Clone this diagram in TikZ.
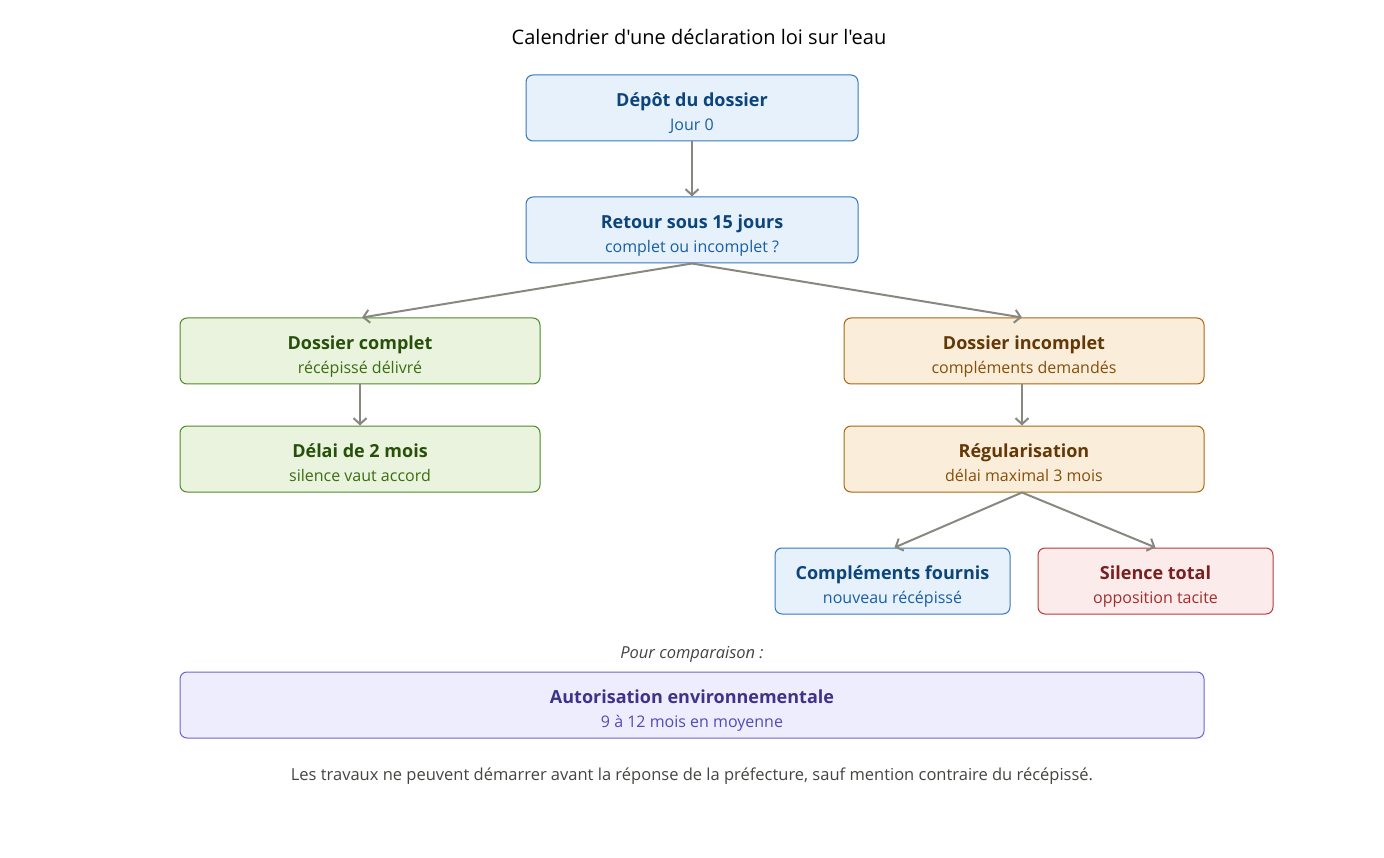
\documentclass[tikz,border=0pt]{standalone}
\usepackage{fontspec}
\setmainfont{Open Sans}[Ligatures=TeXOff]
\usetikzlibrary{arrows.meta}

\definecolor{bluefill}{HTML}{E6F1FB}
\definecolor{blueline}{HTML}{3477C2}
\definecolor{bluetitle}{HTML}{0C447C}
\definecolor{bluenote}{HTML}{185FA5}
\definecolor{greenfill}{HTML}{EAF3DE}
\definecolor{greenline}{HTML}{4E8A26}
\definecolor{greentitle}{HTML}{27500A}
\definecolor{greennote}{HTML}{3B6D11}
\definecolor{orangefill}{HTML}{FAEEDA}
\definecolor{orangeline}{HTML}{A8660F}
\definecolor{orangetitle}{HTML}{633806}
\definecolor{orangenote}{HTML}{854F0B}
\definecolor{redfill}{HTML}{FCEBEB}
\definecolor{redline}{HTML}{B83A3A}
\definecolor{redtitle}{HTML}{791F1F}
\definecolor{rednote}{HTML}{A32D2D}
\definecolor{purplefill}{HTML}{EEEDFE}
\definecolor{purpleline}{HTML}{6E63D0}
\definecolor{purpletitle}{HTML}{3C3489}
\definecolor{purplenote}{HTML}{534AB7}
\definecolor{arrowgrey}{HTML}{888780}
\definecolor{textgrey}{HTML}{444441}

\newcommand{\cardtext}[4]{\rule{0pt}{26pt}{\fontsize{18}{24}\selectfont\bfseries\color{#1}#3}\\{\color{#2}#4}\rule[-5pt]{0pt}{5pt}}

\begin{document}
\begin{tikzpicture}[x=1pt,y=-1pt,
    card/.style={rectangle, rounded corners=7pt, line width=1pt, minimum height=66pt, align=center, inner sep=0pt, font=\fontsize{16}{24}\selectfont},
    bluecard/.style={card, fill=bluefill, draw=blueline},
    greencard/.style={card, fill=greenfill, draw=greenline},
    orangecard/.style={card, fill=orangefill, draw=orangeline},
    redcard/.style={card, fill=redfill, draw=redline},
    purplecard/.style={card, fill=purplefill, draw=purpleline},
    flow/.style={draw=arrowgrey, line width=2pt, -{Straight Barb[length=6pt,width=13pt]}}]
  \useasboundingbox (0,0) rectangle (1384,858);

  \node (title) at (699,37) {\fontsize{20}{24}\selectfont Calendrier d'une déclaration loi sur l'eau};

  \node[bluecard, minimum width=332pt] (depot) at (692,108) {\cardtext{bluetitle}{bluenote}{Dépôt du dossier}{Jour 0}};
  \node[bluecard, minimum width=332pt] (retour) at (692,230) {\cardtext{bluetitle}{bluenote}{Retour sous 15 jours}{complet ou incomplet ?}};

  \node[greencard, minimum width=360pt] (complet) at (360,351) {\cardtext{greentitle}{greennote}{Dossier complet}{récépissé délivré}};
  \node[greencard, minimum width=360pt] (delai) at (360,459) {\cardtext{greentitle}{greennote}{Délai de 2 mois}{silence vaut accord}};

  \node[orangecard, minimum width=360pt] (incomplet) at (1024,351) {\cardtext{orangetitle}{orangenote}{Dossier incomplet}{compléments demandés}};
  \node[orangecard, minimum width=360pt] (regul) at (1024,459) {\cardtext{orangetitle}{orangenote}{Régularisation}{délai maximal 3 mois}};

  \node[bluecard, minimum width=235pt] (fournis) at (892.5,581) {\cardtext{bluetitle}{bluenote}{Compléments fournis}{nouveau récépissé}};
  \node[redcard, minimum width=235pt] (silence) at (1155.5,581) {\cardtext{redtitle}{rednote}{Silence total}{opposition tacite}};

  \node[text=textgrey] (compare) at (692,654) {\fontsize{16.5}{20}\selectfont\itshape Pour comparaison :};
  \node[purplecard, minimum width=1024pt] (autor) at (692,705) {\cardtext{purpletitle}{purplenote}{Autorisation environnementale}{9 à 12 mois en moyenne}};

  \node[text=textgrey] (footer) at (692,776) {\fontsize{16.5}{20}\selectfont Les travaux ne peuvent démarrer avant la réponse de la préfecture, sauf mention contraire du récépissé.};

  % connectors
  \draw[flow] (depot) -- (retour);
  \draw[flow] (retour.south) -- ([xshift=2pt]complet.north);
  \draw[flow] (retour.south) -- ([xshift=-2pt]incomplet.north);
  \draw[flow] (complet) -- (delai);
  \draw[flow] ([xshift=-2pt]incomplet.south) -- ([xshift=-2pt]regul.north);
  \draw[flow] ([xshift=-2pt]regul.south) -- ([xshift=2pt]fournis.north);
  \draw[flow] ([xshift=-2pt]regul.south) -- (silence.north);
\end{tikzpicture}
\end{document}
